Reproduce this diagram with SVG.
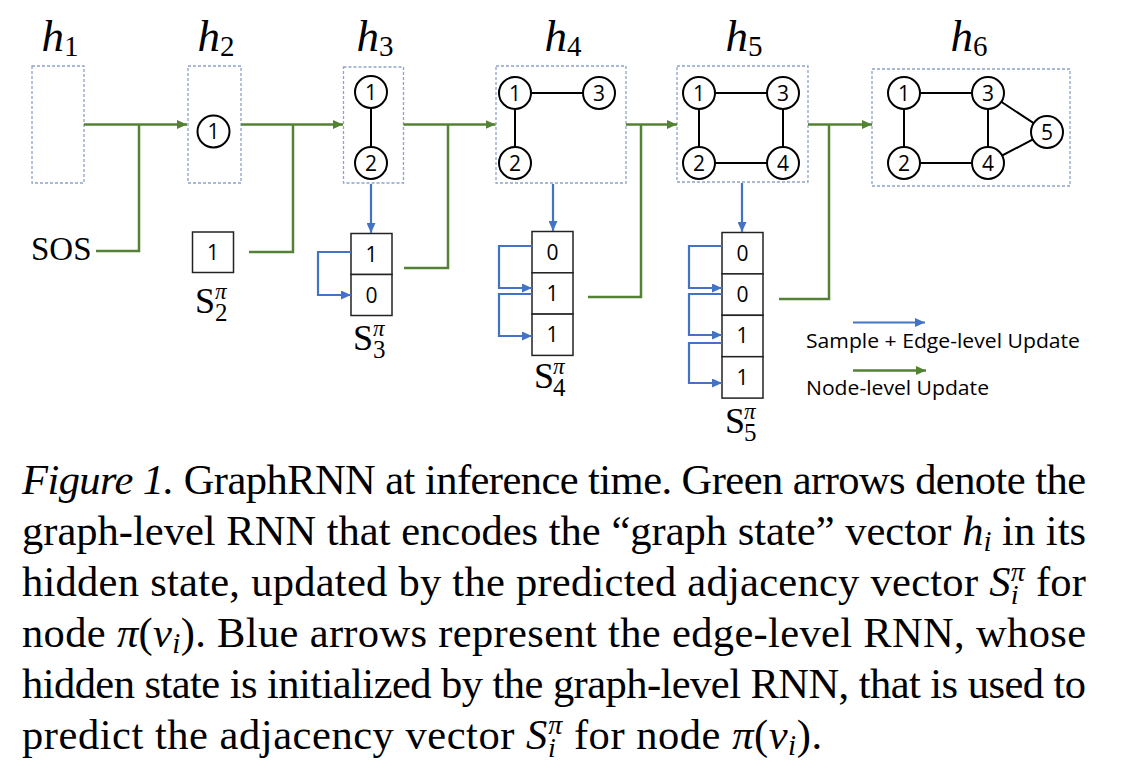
<svg xmlns="http://www.w3.org/2000/svg" width="1140" height="782" viewBox="0 0 1140 782">
<style>
.box{fill:none;stroke:#8fa2c8;stroke-width:1.3;stroke-dasharray:3 2}
.nd{fill:#fff;stroke:#000;stroke-width:2}
.ed{stroke:#000;stroke-width:2}
.num{font-family:"Open Sans","Liberation Sans",sans-serif;font-size:21px;fill:#000;text-anchor:middle}
.cell{fill:#fff;stroke:#222;stroke-width:1.5}
.g{fill:none;stroke:#548235;stroke-width:2.5}
.b{fill:none;stroke:#4472c4;stroke-width:2.2}
.hl{font-family:"Liberation Serif",serif;font-size:45px;font-style:italic;text-anchor:middle}
.hs{font-style:normal;font-size:29px}
.sl{font-family:"Liberation Serif",serif;font-size:36px}
.sp{font-family:"Liberation Serif",serif;font-size:23px;font-style:italic}
.ss{font-family:"Liberation Serif",serif;font-size:25px}
.leg{font-family:"Open Sans","Liberation Sans",sans-serif;font-size:20px;fill:#000}
.cap{font-family:"Liberation Serif",serif;font-size:42.5px;fill:#000}
.it{font-style:italic}
</style>
<defs>
<marker id="ag" markerUnits="userSpaceOnUse" markerWidth="10" markerHeight="9" refX="10" refY="4.5" orient="auto"><path d="M0,0 L10,4.5 L0,9 z" fill="#548235"/></marker>
<marker id="ab" markerUnits="userSpaceOnUse" markerWidth="10" markerHeight="9" refX="10" refY="4.5" orient="auto"><path d="M0,0 L10,4.5 L0,9 z" fill="#4472c4"/></marker>
</defs>

<g id="h1">
<rect class="box" x="32" y="66" width="52" height="117"/>
<text class="hl" x="60" y="51">h<tspan class="hs" dy="5">1</tspan></text>
</g>
<g id="h2">
<rect class="box" x="188" y="66" width="53" height="117"/>
<text class="hl" x="216" y="51">h<tspan class="hs" dy="5">2</tspan></text>
<circle class="nd" cx="213.5" cy="131.5" r="16"/><text class="num" x="213.5" y="139">1</text>
</g>
<g id="h3">
<rect class="box" x="343.5" y="67" width="60" height="116"/>
<text class="hl" x="375" y="51">h<tspan class="hs" dy="5">3</tspan></text>
<line class="ed" x1="371" y1="92" x2="371" y2="163"/>
<circle class="nd" cx="371" cy="92" r="16"/><text class="num" x="371" y="99.5">1</text>
<circle class="nd" cx="371" cy="163" r="16"/><text class="num" x="371" y="170.5">2</text>
</g>
<g id="h4">
<rect class="box" x="496" y="66" width="130" height="117"/>
<text class="hl" x="563" y="51">h<tspan class="hs" dy="5">4</tspan></text>
<line class="ed" x1="515" y1="93" x2="599" y2="93"/>
<line class="ed" x1="515" y1="93" x2="515" y2="163"/>
<circle class="nd" cx="515" cy="93" r="16"/><text class="num" x="515" y="100.5">1</text>
<circle class="nd" cx="599" cy="93" r="16"/><text class="num" x="599" y="100.5">3</text>
<circle class="nd" cx="515" cy="163" r="16"/><text class="num" x="515" y="170.5">2</text>
</g>
<g id="h5">
<rect class="box" x="677" y="66" width="131" height="116"/>
<text class="hl" x="744" y="51">h<tspan class="hs" dy="5">5</tspan></text>
<path class="ed" fill="none" d="M699,93 H783 V163 H699 Z"/>
<circle class="nd" cx="699" cy="93" r="16"/><text class="num" x="699" y="100.5">1</text>
<circle class="nd" cx="783" cy="93" r="16"/><text class="num" x="783" y="100.5">3</text>
<circle class="nd" cx="699" cy="163" r="16"/><text class="num" x="699" y="170.5">2</text>
<circle class="nd" cx="783" cy="163" r="16"/><text class="num" x="783" y="170.5">4</text>
</g>
<g id="h6">
<rect class="box" x="872" y="69" width="198" height="117"/>
<text class="hl" x="969" y="51">h<tspan class="hs" dy="5">6</tspan></text>
<path class="ed" fill="none" d="M904,93 H988 V163 H904 Z M988,93 L1047,132 L988,163"/>
<circle class="nd" cx="904" cy="93" r="16"/><text class="num" x="904" y="100.5">1</text>
<circle class="nd" cx="988" cy="93" r="16"/><text class="num" x="988" y="100.5">3</text>
<circle class="nd" cx="904" cy="163" r="16"/><text class="num" x="904" y="170.5">2</text>
<circle class="nd" cx="988" cy="163" r="16"/><text class="num" x="988" y="170.5">4</text>
<circle class="nd" cx="1047" cy="132" r="16"/><text class="num" x="1047" y="139.5">5</text>
</g>

<g id="sos">
<text class="sl" x="31" y="260" style="font-size:33px">SOS</text>
</g>
<g id="s2">
<rect class="cell" x="192.5" y="232" width="41" height="40.5"/><text class="num" x="213" y="259.5">1</text>
<text class="sl" x="195" y="313">S</text><text class="sp" x="215" y="299">π</text><text class="ss" x="215" y="321">2</text>
</g>
<g id="s3">
<rect class="cell" x="351" y="233.5" width="41" height="41"/><text class="num" x="371.5" y="261.5">1</text>
<rect class="cell" x="351" y="274.5" width="41" height="41"/><text class="num" x="371.5" y="302.5">0</text>
<text class="sl" x="353" y="350">S</text><text class="sp" x="373" y="336">π</text><text class="ss" x="373" y="358">3</text>
</g>
<g id="s4">
<rect class="cell" x="532" y="231.5" width="41" height="41.3"/><text class="num" x="552.5" y="259.5">0</text>
<rect class="cell" x="532" y="272.8" width="41" height="41.3"/><text class="num" x="552.5" y="300.8">1</text>
<rect class="cell" x="532" y="314.1" width="41" height="41.3"/><text class="num" x="552.5" y="342.1">1</text>
<text class="sl" x="534" y="388">S</text><text class="sp" x="553" y="374">π</text><text class="ss" x="553" y="396">4</text>
</g>
<g id="s5">
<rect class="cell" x="722" y="232.5" width="41" height="41.4"/><text class="num" x="742.5" y="260.5">0</text>
<rect class="cell" x="722" y="273.9" width="41" height="41.4"/><text class="num" x="742.5" y="301.9">0</text>
<rect class="cell" x="722" y="315.3" width="41" height="41.4"/><text class="num" x="742.5" y="343.3">1</text>
<rect class="cell" x="722" y="356.7" width="41" height="41.4"/><text class="num" x="742.5" y="384.7">1</text>
<text class="sl" x="725" y="433">S</text><text class="sp" x="744" y="419">π</text><text class="ss" x="744" y="441">5</text>
</g>

<g id="connectors">
<path class="g" d="M84,124.5 H187" marker-end="url(#ag)"/>
<path class="g" d="M96,251 H139 V124.5"/>
<path class="g" d="M241,124.5 H343" marker-end="url(#ag)"/>
<path class="g" d="M249,252 H293 V124.5"/>
<path class="g" d="M403.5,124.5 H495.5" marker-end="url(#ag)"/>
<path class="g" d="M404,268 H448 V124.5"/>
<path class="g" d="M626,124.5 H677" marker-end="url(#ag)"/>
<path class="g" d="M588,297 H641 V124.5"/>
<path class="g" d="M808,124.5 H872" marker-end="url(#ag)"/>
<path class="g" d="M779,299 H829 V124.5"/>
<path class="b" d="M371,184 V233" marker-end="url(#ab)"/>
<path class="b" d="M553,184 V231" marker-end="url(#ab)"/>
<path class="b" d="M742,183 V232" marker-end="url(#ab)"/>
<path class="b" d="M351,252 H318 V295 H351" marker-end="url(#ab)"/>
<path class="b" d="M532,246 H499 V288 H532" marker-end="url(#ab)"/>
<path class="b" d="M532,294 H499 V336 H532" marker-end="url(#ab)"/>
<path class="b" d="M722,246 H689 V288 H722" marker-end="url(#ab)"/>
<path class="b" d="M722,294 H689 V335 H722" marker-end="url(#ab)"/>
<path class="b" d="M722,343 H689 V383 H722" marker-end="url(#ab)"/>
</g>

<g id="legend">
<path class="b" d="M853,322.5 H925" marker-end="url(#ab)"/>
<text class="leg" x="806" y="348" textLength="274" lengthAdjust="spacingAndGlyphs">Sample + Edge-level Update</text>
<path class="g" d="M853,370.5 H926" marker-end="url(#ag)"/>
<text class="leg" x="806" y="395" textLength="183" lengthAdjust="spacingAndGlyphs">Node-level Update</text>
</g>

<g id="caption">
<text class="cap" x="22" y="494" textLength="1064" lengthAdjust="spacing"><tspan class="it">Figure 1.</tspan> GraphRNN at inference time. Green arrows denote the</text>
<text class="cap" x="22" y="545" textLength="1064" lengthAdjust="spacing">graph-level RNN that encodes the “graph state” vector <tspan class="it">h</tspan><tspan class="it" font-size="29" dy="6">i</tspan><tspan dy="-6"> in its</tspan></text>
<text class="cap" x="22" y="596" textLength="1064" lengthAdjust="spacing">hidden state, updated by the predicted adjacency vector <tspan class="it">S</tspan><tspan class="it" font-size="28" dy="8">i</tspan><tspan class="it" font-size="28" dx="-8" dy="-23">π</tspan><tspan dy="15"> for</tspan></text>
<text class="cap" x="22" y="647" textLength="1064" lengthAdjust="spacing">node <tspan class="it">π</tspan>(<tspan class="it">v</tspan><tspan class="it" font-size="29" dy="6">i</tspan><tspan dy="-6">).  Blue arrows represent the edge-level RNN, whose</tspan></text>
<text class="cap" x="22" y="698" textLength="1064" lengthAdjust="spacing">hidden state is initialized by the graph-level RNN, that is used to</text>
<text class="cap" x="22" y="749" textLength="800" lengthAdjust="spacing">predict the adjacency vector <tspan class="it">S</tspan><tspan class="it" font-size="28" dy="8">i</tspan><tspan class="it" font-size="28" dx="-8" dy="-23">π</tspan><tspan dy="15"> for node </tspan><tspan class="it">π</tspan>(<tspan class="it">v</tspan><tspan class="it" font-size="29" dy="6">i</tspan><tspan dy="-6">).</tspan></text>
</g>
</svg>
